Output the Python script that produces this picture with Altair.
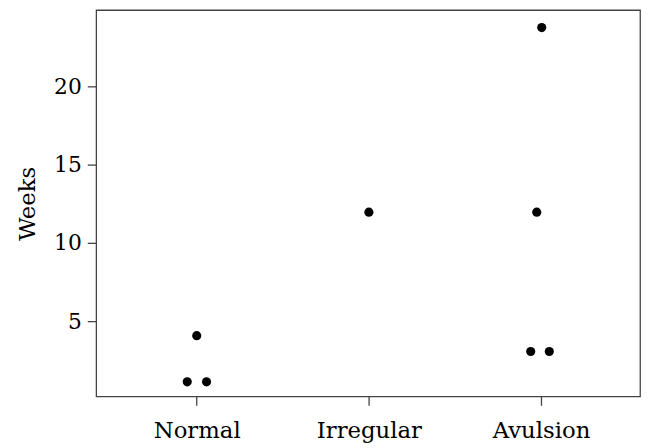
import altair as alt
import pandas as pd

categories = ["Normal", "Irregular", "Avulsion"]
point_group = ["Normal", "Normal", "Normal", "Irregular", "Avulsion", "Avulsion", "Avulsion", "Avulsion"]
weeks = [1.12, 1.12, 4.07, 11.96, 23.75, 11.96, 3.06, 3.06]
jitter = [-0.055, 0.057, 0.0, 0.0, 0.004, -0.025, -0.06, 0.048]

df = pd.DataFrame({"group": point_group, "weeks": weeks, "jit": jitter})
df["pos"] = [categories.index(g) + 1 + j for g, j in zip(df["group"], df["jit"])]

label_expr = " : ".join(
    f"datum.value == {i + 1} ? '{c}'" for i, c in enumerate(categories[:-1])
) + f" : '{categories[-1]}'"

FONT = "DejaVu Serif"

chart = alt.Chart(df).mark_circle(size=85, color="black", opacity=1).encode(
    x=alt.X("pos:Q", scale=alt.Scale(domain=[0.416, 3.575], nice=False, zero=False),
            axis=alt.Axis(values=[1, 2, 3], labelExpr=label_expr, title=None, grid=False,
                          domain=False, tickSize=9, tickColor="#444", tickWidth=1.3,
                          labelFont=FONT, labelFontSize=23, labelColor="black", labelPadding=14)),
    y=alt.Y("weeks:Q", scale=alt.Scale(domain=[0.19, 24.87], nice=False, zero=False),
            axis=alt.Axis(values=[5, 10, 15, 20], title="Weeks", grid=False, domain=False,
                          tickSize=9, tickColor="#444", tickWidth=1.3,
                          labelFont=FONT, labelFontSize=22, labelColor="black", labelPadding=6,
                          titleFont=FONT, titleFontSize=23, titleFontWeight="normal",
                          titleColor="black", titlePadding=14)),
).properties(
    width=549, height=390,
    autosize=alt.AutoSizeParams(type="none"),
    padding={"left": 89, "top": 0, "right": 4, "bottom": 50},
).configure_view(stroke="#444", strokeWidth=1.3)

chart.save("out.html", embed_options={"renderer": "svg", "actions": False})
